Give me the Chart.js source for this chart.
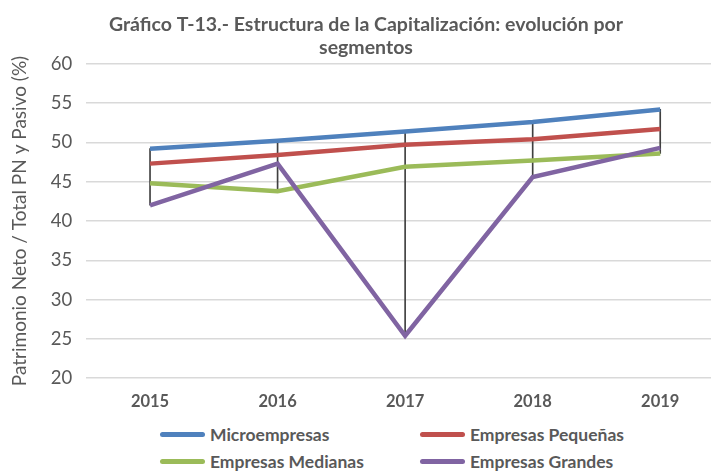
<!DOCTYPE html>
<html>
<head>
<meta charset="utf-8">
<script src="https://cdn.jsdelivr.net/npm/chart.js@4"></script>
<style>
  html, body { margin: 0; padding: 0; background: #fff; overflow: hidden; }
  #wrap { position: relative; width: 711px; height: 473px; overflow: hidden; }
  #box  { position: absolute; left: 0; top: 0; width: 760px; height: 418px; }
  #legend {
    position: absolute; left: 160px; top: 424px;
    display: grid; grid-template-columns: 260px 260px; row-gap: 6px;
    font-family: Lato, sans-serif; font-size: 17.5px; font-weight: bold; color: #595959;
  }
  .item { display: flex; align-items: center; height: 21px; }
  .swatch { width: 45px; height: 5px; border-radius: 3px; margin-right: 5px; }
</style>
</head>
<body>
<div id="wrap">
  <div id="box"><canvas id="chart"></canvas></div>
  <div id="legend"></div>
</div>
<script>
const years       = ['2015', '2016', '2017', '2018', '2019'];
const micro       = [49.2, 50.2, 51.4, 52.6, 54.2];
const pequenas    = [47.3, 48.4, 49.7, 50.4, 51.7];
const medianas    = [44.8, 43.8, 46.9, 47.7, 48.6];
const grandes     = [42.0, 47.3, 25.4, 45.6, 49.3];
const seriesNames = ['Microempresas', 'Empresas Pequeñas', 'Empresas Medianas', 'Empresas Grandes'];
const colors      = ['#4f81bd', '#c0504d', '#9bbb59', '#8064a2'];
const yTicks      = [20, 25, 30, 35, 40, 45, 50, 55, 60];

const allSeries = [micro, pequenas, medianas, grandes];
const highLow = years.map((y, i) => {
  const vals = allSeries.map(s => s[i]);
  return [Math.min(...vals), Math.max(...vals)];
});

const lineSets = allSeries.map((data, i) => ({
  type: 'line',
  label: seriesNames[i],
  data: data,
  borderColor: colors[i],
  backgroundColor: colors[i],
  borderWidth: 4.5,
  pointRadius: 0,
  tension: 0,
  order: 4 - i
}));

const ctx = document.getElementById('chart').getContext('2d');
new Chart(ctx, {
  type: 'bar',
  data: {
    labels: years,
    datasets: [...lineSets, {
      type: 'bar',
      label: 'hl',
      data: highLow,
      backgroundColor: '#404040',
      barThickness: 1,
      grouped: false,
      order: 10
    }]
  },
  options: {
    responsive: true,
    maintainAspectRatio: false,
    animation: false,
    layout: { padding: { left: 8, right: 36, top: 5, bottom: 0 } },
    plugins: {
      legend: { display: false },
      tooltip: { enabled: false },
      title: {
        display: true,
        text: ['Gráfico T-13.- Estructura de la Capitalización: evolución por', 'segmentos'],
        color: '#595959',
        font: { family: 'Lato', size: 19.5, weight: 'bold', lineHeight: 1.2 },
        padding: { top: 8, bottom: 4 }
      }
    },
    scales: {
      x: {
        offset: true,
        grid: { display: false },
        border: { display: false },
        ticks: { color: '#595959', font: { family: 'Lato', size: 16.5, weight: 'bold' }, padding: 6 }
      },
      y: {
        min: 20, max: 60,
        afterBuildTicks: axis => { axis.ticks = yTicks.map(v => ({ value: v })); },
        grid: { color: '#d9d9d9', lineWidth: 1.5, drawTicks: false },
        border: { display: false },
        ticks: { color: '#595959', font: { family: 'Lato', size: 18.5 }, padding: 14 },
        title: {
          display: true,
          text: 'Patrimonio Neto / Total PN y Pasivo (%)',
          color: '#595959',
          font: { family: 'Lato', size: 19 },
          padding: { top: 0, bottom: 6 }
        }
      }
    }
  }
});

const legend = document.getElementById('legend');
seriesNames.forEach((name, i) => {
  const item = document.createElement('div');
  item.className = 'item';
  const sw = document.createElement('span');
  sw.className = 'swatch';
  sw.style.background = colors[i];
  const txt = document.createElement('span');
  txt.textContent = name;
  item.appendChild(sw);
  item.appendChild(txt);
  legend.appendChild(item);
});
</script>
</body>
</html>
